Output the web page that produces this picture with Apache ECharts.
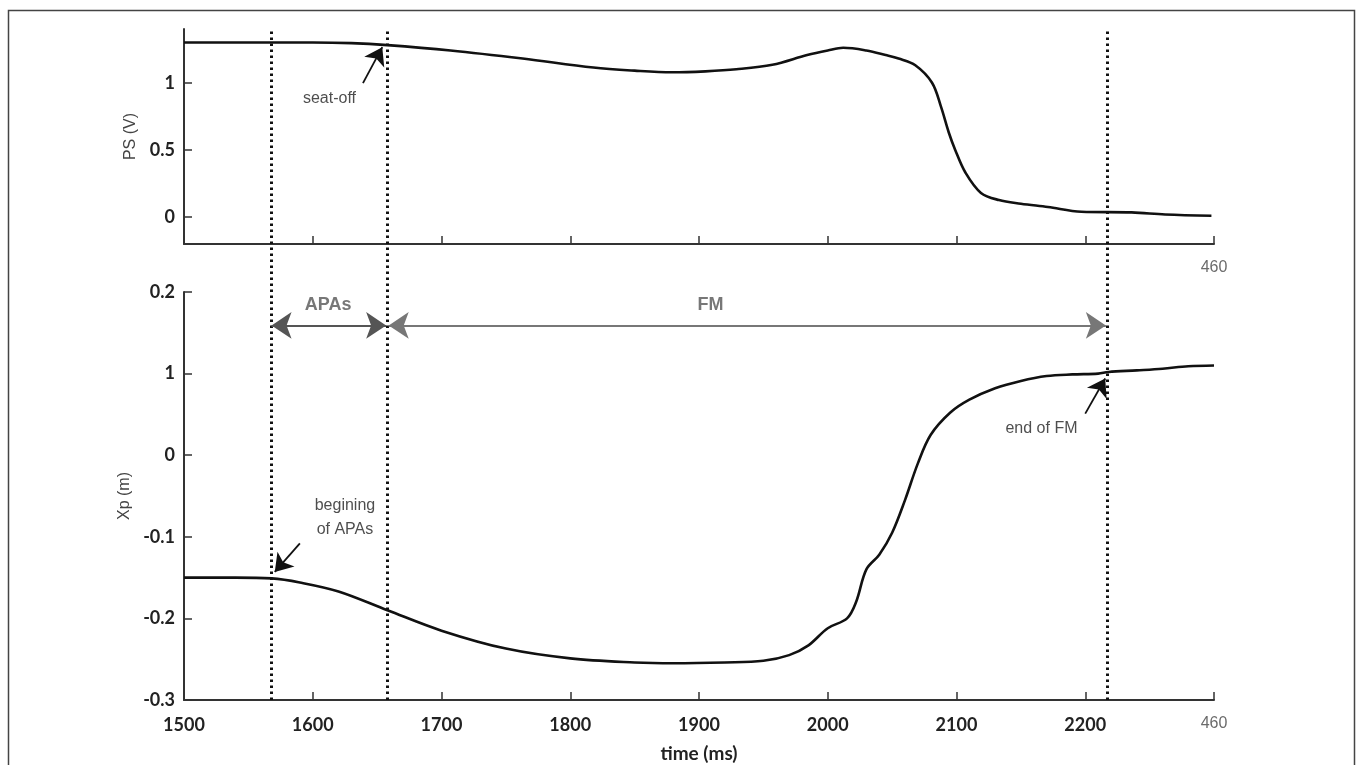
<!DOCTYPE html>
<html>
<head>
<meta charset="utf-8">
<script src="https://cdn.jsdelivr.net/npm/echarts@6/dist/echarts.min.js"></script>
<style>
html,body{margin:0;padding:0;background:#fff;}
#chart{width:1358px;height:765px;}
</style>
</head>
<body>
<div id="chart"></div>
<script>
// ---- data ----
const psTime = [1500,1550,1600,1630,1658,1707,1763,1818,1850,1879,1905,1929,1957,1984,2000,2012,2030,2045,2055,2068,2081,2088,2094,2099,2107,2119,2133,2150,2171,2197,2236,2262,2298];
const psValues = [1.30,1.30,1.30,1.295,1.28,1.24,1.18,1.113,1.09,1.078,1.085,1.10,1.134,1.206,1.24,1.26,1.24,1.206,1.18,1.13,1.0,0.82,0.63,0.5,0.33,0.18,0.127,0.10,0.075,0.04,0.035,0.02,0.01];

const xpTime = [1500,1540,1568,1590,1620,1658,1700,1750,1800,1850,1880,1920,1950,1970,1985,2000,2015,2022,2030,2040,2050,2060,2070,2080,2095,2110,2130,2150,2170,2190,2210,2218,2240,2260,2280,2300];
const xpValues = [-0.150,-0.150,-0.151,-0.156,-0.167,-0.190,-0.215,-0.237,-0.249,-0.254,-0.255,-0.254,-0.252,-0.245,-0.233,-0.212,-0.200,-0.180,-0.140,-0.122,-0.095,-0.055,-0.010,0.025,0.052,0.068,0.082,0.091,0.097,0.099,0.100,0.102,0.104,0.106,0.109,0.110];

const xTickValues = [1500,1600,1700,1800,1900,2000,2100,2200,2300];
const xTickLabels = ['1500','1600','1700','1800','1900','2000','2100','2200','460'];
const psTickValues = [0,0.5,1];
const psTickLabels = ['0','0.5','1'];
const xpTickValues = [-0.3,-0.2,-0.1,0,0.1,0.2];
const xpTickLabels = ['-0.3','-0.2','-0.1','0','1','0.2'];

const eventTimes = [1568,1658,2217];           // dotted vertical lines
const apasSpan = [1568,1657];
const fmSpan = [1659,2216];
const spanLevel = 0.159;

// annotation texts: [time, value]
const psNotes = [{name:'seat-off', value:[1613,0.885]}];
const xpNotes = [
  {name:'begining\nof APAs', value:[1625,-0.077]},
  {name:'end of FM', value:[2166,0.033]}
];
const spanNotes = [
  {name:'APAs', value:[1612,0.184]},
  {name:'FM', value:[1909,0.184]}
];
const psArrows = [[[1639,0.997],[1654,1.265]]];
const xpArrows = [[[1590,-0.108],[1570.5,-0.143]],[[2200,0.051],[2215.5,0.094]]];

// ---- chart ----
const pair = (ts, vs) => ts.map((t,i)=>[t, vs[i]]);
const near = (a,b)=>Math.abs(a-b)<1e-6;
const labelFor = (vals, labs) => v => { const i = vals.findIndex(x=>near(x,v)); return i<0?'':labs[i]; };
const xLab = labelFor(xTickValues, xTickLabels);

const axisLineStyle = {color:'#333', width:2};
const tickFont = {fontFamily:'Lato', fontWeight:'bold', fontSize:18, color:'#222'};
const rich = {g:{fontFamily:'Liberation Sans', fontWeight:'normal', fontSize:16, color:'#6b6b6b'}};

const chart = echarts.init(document.getElementById('chart'), null, {renderer:'canvas'});
chart.setOption({
  backgroundColor:'#fff',
  animation:false,
  graphic:[{type:'rect', shape:{x:8.5,y:10.5,width:1346,height:770}, style:{fill:'none', stroke:'#444', lineWidth:1.5}, silent:true}],
  grid:[
    {left:184, right:144, top:29, height:215, outerBoundsMode:'none', containLabel:false},
    {left:184, right:144, top:292, bottom:65, outerBoundsMode:'none', containLabel:false},
    {left:184, right:144, top:29, bottom:65, outerBoundsMode:'none', containLabel:false}
  ],
  xAxis:[
    {gridIndex:0, type:'value', min:1500, max:2300, interval:100,
     axisLine:{onZero:false, lineStyle:axisLineStyle}, splitLine:{show:false},
     axisTick:{inside:true, length:8, lineStyle:{color:'#333', width:1.5}},
     axisLabel:Object.assign({}, tickFont, {margin:16, formatter:v=> v===2300 ? '{g|'+xLab(v)+'}' : '', rich})},
    {gridIndex:1, type:'value', min:1500, max:2300, interval:100,
     name:'time (ms)', nameLocation:'middle', nameGap:44,
     nameTextStyle:{fontFamily:'Lato', fontWeight:'bold', fontSize:19, color:'#222'},
     axisLine:{onZero:false, lineStyle:axisLineStyle}, splitLine:{show:false},
     axisTick:{inside:true, length:8, lineStyle:{color:'#333', width:1.5}},
     axisLabel:Object.assign({}, tickFont, {margin:16, formatter:v=> v===2300 ? '{g|'+xLab(v)+'}' : xLab(v), rich})},
    {gridIndex:2, type:'value', min:1500, max:2300, show:false}
  ],
  yAxis:[
    {gridIndex:0, type:'value', min:-0.2, max:1.4,
     name:'PS (V)', nameLocation:'middle', nameGap:44, nameRotate:90,
     nameTextStyle:{fontFamily:'Liberation Sans', fontSize:16, color:'#444'},
     axisLine:{onZero:false, lineStyle:axisLineStyle}, splitLine:{show:false},
     axisTick:{inside:true, length:8, customValues:psTickValues, lineStyle:{color:'#333', width:1.5}},
     axisLabel:Object.assign({}, tickFont, {margin:9, customValues:psTickValues, formatter:labelFor(psTickValues, psTickLabels)})},
    {gridIndex:1, type:'value', min:-0.3, max:0.2, interval:0.1,
     name:'Xp (m)', nameLocation:'middle', nameGap:44, nameRotate:90,
     nameTextStyle:{fontFamily:'Liberation Sans', fontSize:16, color:'#444'},
     axisLine:{onZero:false, lineStyle:axisLineStyle}, splitLine:{show:false},
     axisTick:{inside:true, length:8, lineStyle:{color:'#333', width:1.5}},
     axisLabel:Object.assign({}, tickFont, {margin:9, formatter:labelFor(xpTickValues, xpTickLabels)})},
    {gridIndex:2, type:'value', min:0, max:1, show:false}
  ],
  series:[
    {type:'line', xAxisIndex:0, yAxisIndex:0, data:pair(psTime, psValues), smooth:0.35, showSymbol:false,
     lineStyle:{color:'#111', width:2.6}, silent:true},
    {type:'line', xAxisIndex:1, yAxisIndex:1, data:pair(xpTime, xpValues), smooth:0.35, showSymbol:false,
     lineStyle:{color:'#111', width:2.6}, silent:true},
    // dotted event lines across both panels
    {type:'scatter', xAxisIndex:2, yAxisIndex:2, data:[], symbolSize:0, silent:true,
     markLine:{silent:true, symbol:['none','none'], label:{show:false},
       lineStyle:{color:'#111', width:3, type:[2.5,3.5]},
       data:eventTimes.map(t=>({xAxis:t}))}},
    // APAs / FM double arrows
    {type:'scatter', xAxisIndex:1, yAxisIndex:1, data:[], symbolSize:0, silent:true,
     markLine:{silent:true, symbol:['arrow','arrow'], symbolSize:20, label:{show:false},
       data:[
         [{coord:[apasSpan[0],spanLevel], lineStyle:{color:'#555', width:2.2, type:'solid'}},{coord:[apasSpan[1],spanLevel]}],
         [{coord:[fmSpan[0],spanLevel], lineStyle:{color:'#777', width:2, type:'solid'}},{coord:[fmSpan[1],spanLevel]}]
       ]}},
    // black pointer arrows, bottom
    {type:'scatter', xAxisIndex:1, yAxisIndex:1, data:[], symbolSize:0, silent:true,
     markLine:{silent:true, symbol:['none','arrow'], symbolSize:17, label:{show:false},
       lineStyle:{color:'#111', width:1.8, type:'solid'},
       data:xpArrows.map(a=>[{coord:a[0]},{coord:a[1]}])}},
    // black pointer arrow, top
    {type:'scatter', xAxisIndex:0, yAxisIndex:0, data:[], symbolSize:0, silent:true,
     markLine:{silent:true, symbol:['none','arrow'], symbolSize:17, label:{show:false},
       lineStyle:{color:'#111', width:1.8, type:'solid'},
       data:psArrows.map(a=>[{coord:a[0]},{coord:a[1]}])}},
    // annotation texts
    {type:'scatter', xAxisIndex:0, yAxisIndex:0, data:psNotes, symbolSize:0, silent:true,
     label:{show:true, position:'inside', formatter:p=>p.name, fontFamily:'Liberation Sans', fontSize:16, color:'#222'}},
    {type:'scatter', xAxisIndex:1, yAxisIndex:1, data:xpNotes, symbolSize:0, silent:true,
     label:{show:true, position:'inside', formatter:p=>p.name, fontFamily:'Liberation Sans', fontSize:16, color:'#222', lineHeight:24, align:'center'}},
    {type:'scatter', xAxisIndex:1, yAxisIndex:1, data:spanNotes, symbolSize:0, silent:true,
     label:{show:true, position:'inside', formatter:p=>p.name, fontFamily:'Liberation Sans', fontWeight:'bold', fontSize:18, color:'#555'}}
  ]
});
</script>
</body>
</html>
